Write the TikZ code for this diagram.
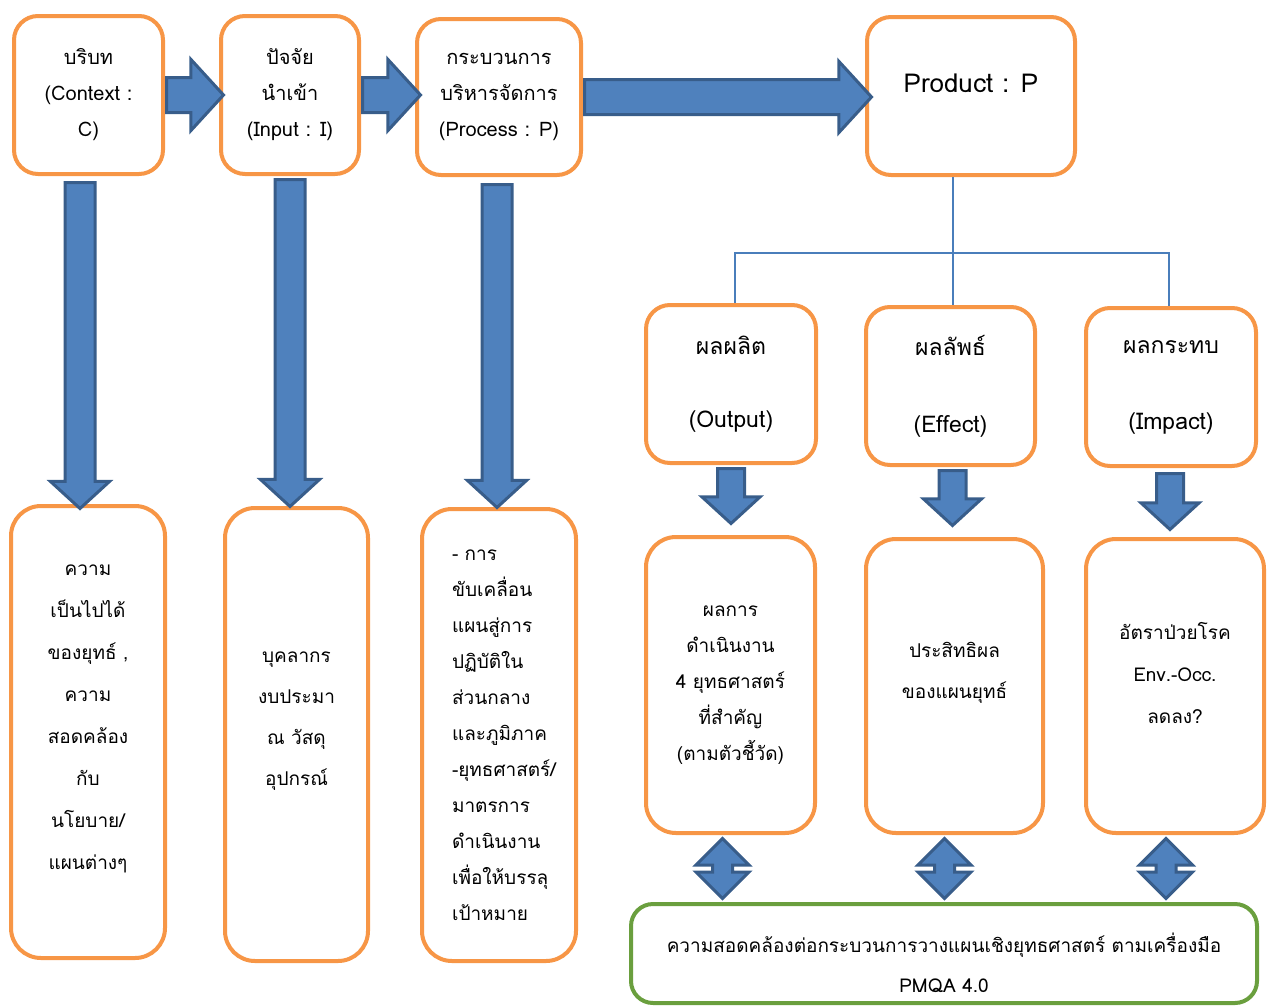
\documentclass[tikz,border=0pt]{standalone}
\usepackage{fontspec}
\newfontfamily\thaifont[Script=Thai]{Loma}
\usepackage{tikz}
\usetikzlibrary{shapes,calc}

\definecolor{boxorange}{HTML}{F79646}
\definecolor{arrowfill}{HTML}{4F81BD}
\definecolor{arrowline}{HTML}{385D8A}
\definecolor{goalgreen}{HTML}{6A9F3E}
\definecolor{treeblue}{HTML}{4A7EBB}

\begin{document}
\begin{tikzpicture}[
  x=1pt,y=-1pt,
  box/.style={rectangle,rounded corners=24,draw=boxorange,line width=4,fill=white,
    align=center,font=\thaifont\fontsize{20}{36}\selectfont},
  tall/.style={box,rounded corners=30},
  goal/.style={box,draw=goalgreen,rounded corners=22},
  lbl/.style={align=center,font=\thaifont\fontsize{19}{#1}\selectfont},
  rarrow/.style={single arrow,draw=arrowline,fill=arrowfill,line width=3,anchor=tail,
    inner xsep=0,inner ysep=16,single arrow head extend=18,single arrow tip angle=95},
  darrow/.style={rarrow,rotate=-90,inner ysep=13.5,single arrow head extend=14.5},
  sarrow/.style={rarrow,rotate=-90,inner ysep=12,single arrow head extend=15.5},
  udarrow/.style={double arrow,draw=arrowline,fill=arrowfill,line width=3,
    inner xsep=0,inner ysep=8.5,rotate=90,double arrow head extend=16.5,
    double arrow tip angle=90},
  tree/.style={draw=treeblue,line width=1.3},
]
\useasboundingbox (0,0) rectangle (1269,1007);

% top row
\node[box,minimum width=149,minimum height=158] (ctx) at (88.5,95) {บริบท\\(Context :\\C)};
\node[box,minimum width=138,minimum height=158] (inp) at (290,95) {ปัจจัย\\นำเข้า\\(Input : I)};
\node[box,minimum width=164,minimum height=156] (proc) at (499,97) {กระบวนการ\\บริหารจัดการ\\(Process : P)};
\node[box,minimum width=208,minimum height=158,
  label={[lbl=30,font=\thaifont\fontsize{26}{30}\selectfont,yshift=13]center:{Product : P}}]
  (prod) at (971,96) {};

\node[rarrow,minimum height=57] (a1) at (ctx.east) {};
\node[rarrow,minimum height=58] (a2) at (inp.east) {};
\node[rarrow,minimum height=287] (a3) at (proc.east) {};

% product split
\node[box,minimum width=170,minimum height=158,font=\thaifont\fontsize{23}{73}\selectfont]
  (outp) at (731,384) {ผลผลิต\\(Output)};
\node[box,minimum width=169,minimum height=158,font=\thaifont\fontsize{23}{77}\selectfont]
  (effc) at (950.5,386) {ผลลัพธ์\\(Effect)};
\node[box,minimum width=170,minimum height=158,font=\thaifont\fontsize{23}{76}\selectfont]
  (impc) at (1171,387) {ผลกระทบ\\(Impact)};

\coordinate (split) at (953,253);
\draw[tree] (prod.south -| split) -- (split) -- (split |- effc.north);
\draw[tree] ([xshift=4]outp.north) |- (split) -| ([xshift=-2]impc.north);

% lower boxes
\node[tall,minimum width=154,minimum height=452,
  label={[lbl=42,yshift=13]center:{ความ\\เป็นไปได้\\ของยุทธ์ ,\\ความ\\สอดคล้อง\\กับ\\นโยบาย/\\แผนต่างๆ}}]
  (ctxd) at (88,732) {};
\node[tall,minimum width=143,minimum height=453,
  label={[lbl=41,yshift=13]center:{บุคลากร\\งบประมา\\ณ วัสดุ\\อุปกรณ์}}]
  (inpd) at (296.5,734.5) {};
\node[tall,minimum width=154,minimum height=452,
  label={[lbl=36,align=left,text width=112,xshift=9]center:{- การ\\ขับเคลื่อน\\แผนสู่การ\\ปฏิบัติใน\\ส่วนกลาง\\และภูมิภาค\\\mbox{-ยุทธศาสตร์/}\\มาตรการ\\ดำเนินงาน\\เพื่อให้บรรลุ\\เป้าหมาย}}]
  (procd) at (499,735) {};

\node[darrow,minimum height=326] (d1) at ([xshift=-8.5,yshift=-5]ctx.south) {};
\node[darrow,minimum height=327] (d2) at ([yshift=-2]inp.south) {};
\node[darrow,minimum height=323] (d3) at ([xshift=-2,yshift=-6]proc.south) {};

\node[tall,minimum width=169,minimum height=296,
  label={[lbl=36]center:{ผลการ\\ดำเนินงาน\\4 ยุทธศาสตร์\\ที่สำคัญ\\(ตามตัวชี้วัด)}}]
  (outd) at (730.5,685) {};
\node[tall,minimum width=177,minimum height=294,
  label={[lbl=41,yshift=13]center:{ประสิทธิผล\\ของแผนยุทธ์}}]
  (effd) at (954.5,686) {};
\node[tall,minimum width=178,minimum height=294,
  label={[lbl=42,yshift=13]center:{อัตราป่วยโรค\\Env.-Occ.\\ลดลง?}}]
  (impd) at (1175,686) {};

\node[sarrow,minimum height=55] (s1) at ([yshift=-2]outp.south) {};
\node[sarrow,minimum height=55] (s2) at ([xshift=2,yshift=-2]effc.south) {};
\node[sarrow,minimum height=56] (s3) at ([xshift=-1,yshift=-4]impc.south) {};

% PMQA
\node[goal,minimum width=626,minimum height=99,
  label={[lbl=40,yshift=-9]center:{ความสอดคล้องต่อกระบวนการวางแผนเชิงยุทธศาสตร์ ตามเครื่องมือ\\PMQA 4.0}}]
  (pmqa) at (944,953.5) {};

\node[udarrow,minimum height=60] (u1) at ($($(outd.south)!0.5!(pmqa.north -| outd.south)$)+(-8,0)$) {};
\node[udarrow,minimum height=60] (u2) at ($($(effd.south)!0.5!(pmqa.north -| effd.south)$)+(-10,0)$) {};
\node[udarrow,minimum height=60] (u3) at ($($(impd.south)!0.5!(pmqa.north -| impd.south)$)+(-9,0)$) {};
\end{tikzpicture}
\end{document}
